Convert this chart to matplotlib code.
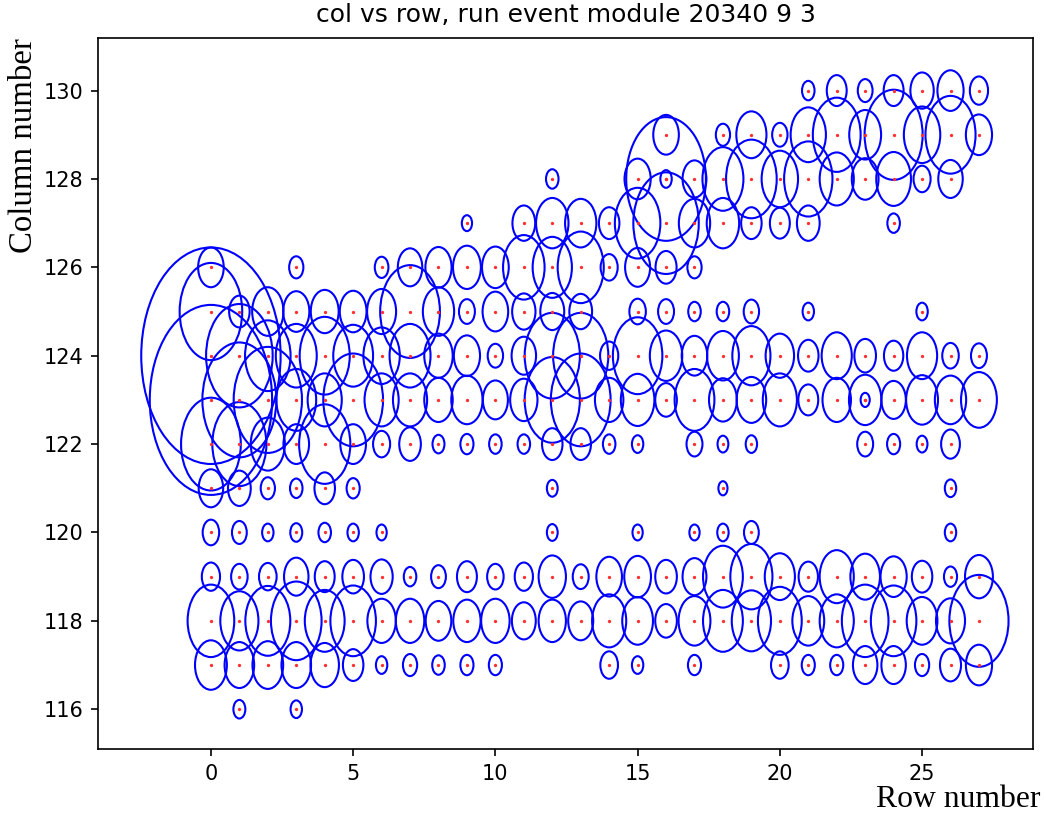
import matplotlib
matplotlib.use("Agg")
import matplotlib.pyplot as plt
from matplotlib.patches import Circle

# column values and, for each, the rows hit and the circle radii (data units)
rows_130 = [21, 22, 23, 24, 25, 26, 27]
rad_130 = [0.22, 0.35, 0.26, 0.35, 0.41, 0.46, 0.32]

rows_129 = [16, 18, 19, 20, 21, 22, 23, 24, 25, 26, 27]
rad_129 = [0.45, 0.25, 0.53, 0.27, 0.62, 0.84, 0.56, 1.02, 0.64, 0.88, 0.46]

rows_128 = [12, 15, 16, 16, 17, 18, 19, 20, 21, 22, 23, 24, 25, 26]
rad_128 = [0.22, 0.46, 1.4, 0.2, 0.42, 0.72, 0.89, 0.64, 0.85, 0.6, 0.47, 0.61, 0.3, 0.43]

rows_127 = [9, 11, 12, 13, 14, 15, 16, 17, 18, 19, 20, 21, 24]
rad_127 = [0.18, 0.4, 0.57, 0.55, 0.36, 0.8, 1.15, 0.55, 0.57, 0.36, 0.35, 0.4, 0.22]

rows_126 = [0, 3, 6, 7, 8, 9, 10, 11, 12, 13, 14, 15, 16, 17]
rad_126 = [0.45, 0.25, 0.24, 0.43, 0.46, 0.49, 0.47, 0.73, 0.69, 0.81, 0.3, 0.44, 0.37, 0.25]

rows_125 = [0, 1, 2, 3, 4, 5, 6, 7, 8, 9, 10, 11, 12, 13, 15, 16, 17, 18, 19, 21, 25]
rad_125 = [1.1, 0.36, 0.55, 0.46, 0.49, 0.47, 0.51, 1.05, 0.55, 0.28, 0.45, 0.41, 0.42, 0.4,
           0.29, 0.28, 0.22, 0.22, 0.27, 0.2, 0.2]

rows_124 = [0, 1, 2, 3, 4, 5, 6, 7, 8, 9, 10, 11, 12, 13, 14, 15, 16, 17, 18, 19, 20,
            21, 22, 23, 24, 25, 26, 27]
rad_124 = [2.45, 1.17, 0.8, 0.72, 0.88, 0.7, 0.64, 0.72, 0.5, 0.46, 0.27, 0.43, 0.97, 0.97,
           0.32, 0.87, 0.57, 0.45, 0.56, 0.67, 0.5, 0.36, 0.53, 0.38, 0.34, 0.53, 0.29, 0.28]

rows_123 = [0, 1, 2, 3, 4, 5, 6, 7, 8, 9, 10, 11, 12, 13, 14, 15, 16, 17, 18, 19, 20,
            21, 22, 23, 23, 24, 25, 26, 27]
rad_123 = [2.15, 1.3, 1.2, 0.7, 0.6, 1.05, 0.6, 0.6, 0.5, 0.55, 0.44, 0.48, 0.97, 1.05,
           0.5, 0.59, 0.38, 0.7, 0.49, 0.52, 0.6, 0.35, 0.5, 0.57, 0.16, 0.43, 0.56, 0.55, 0.63]

rows_122 = [0, 1, 2, 3, 4, 5, 6, 7, 8, 9, 10, 11, 12, 13, 14, 15, 17, 18, 19, 23, 24, 25, 26]
rad_122 = [1.05, 0.95, 0.6, 0.45, 0.9, 0.45, 0.3, 0.38, 0.21, 0.23, 0.22, 0.22, 0.36, 0.36,
           0.22, 0.2, 0.28, 0.19, 0.2, 0.28, 0.23, 0.19, 0.33]

rows_121 = [0, 1, 2, 3, 4, 5, 12, 18, 26]
rad_121 = [0.43, 0.4, 0.25, 0.22, 0.36, 0.23, 0.19, 0.16, 0.2]

rows_120 = [0, 1, 2, 3, 4, 5, 6, 12, 15, 17, 18, 19, 26]
rad_120 = [0.29, 0.26, 0.2, 0.21, 0.22, 0.2, 0.18, 0.19, 0.18, 0.18, 0.2, 0.26, 0.2]

rows_119 = list(range(0, 28))
rad_119 = [0.32, 0.29, 0.31, 0.43, 0.35, 0.38, 0.39, 0.22, 0.26, 0.35, 0.29, 0.32, 0.48, 0.28,
           0.45, 0.47, 0.38, 0.42, 0.7, 0.74, 0.53, 0.34, 0.6, 0.52, 0.46, 0.36, 0.23, 0.49]

rows_118 = list(range(0, 28))
rad_118 = [0.82, 0.67, 0.79, 0.89, 0.7, 0.8, 0.5, 0.5, 0.45, 0.48, 0.5, 0.42, 0.48, 0.44,
           0.6, 0.54, 0.38, 0.56, 0.7, 0.69, 0.77, 0.56, 0.6, 0.82, 0.8, 0.54, 0.51, 1.04]

rows_117 = [0, 1, 2, 3, 4, 5, 6, 7, 8, 9, 10, 14, 15, 17, 20, 21, 22, 23, 24, 25, 26, 27]
rad_117 = [0.56, 0.52, 0.54, 0.52, 0.5, 0.36, 0.2, 0.25, 0.22, 0.23, 0.23, 0.31, 0.2, 0.23,
           0.31, 0.23, 0.23, 0.43, 0.43, 0.25, 0.37, 0.46]

rows_116 = [1, 3]
rad_116 = [0.21, 0.2]

columns = [130, 129, 128, 127, 126, 125, 124, 123, 122, 121, 120, 119, 118, 117, 116]
rows_by_col = [rows_130, rows_129, rows_128, rows_127, rows_126, rows_125, rows_124,
               rows_123, rows_122, rows_121, rows_120, rows_119, rows_118, rows_117, rows_116]
rads_by_col = [rad_130, rad_129, rad_128, rad_127, rad_126, rad_125, rad_124,
               rad_123, rad_122, rad_121, rad_120, rad_119, rad_118, rad_117, rad_116]

title = "col vs row, run event module 20340 9 3"

fig = plt.figure(figsize=(1046 / 150, 814 / 150), dpi=150)
ax = fig.add_axes([98 / 1046, 1 - 749 / 814, (1033 - 98) / 1046, (749 - 38) / 814])

xs, ys = [], []
for col, rws, rds in zip(columns, rows_by_col, rads_by_col):
    for r, rad in zip(rws, rds):
        ax.add_patch(Circle((r, col), rad, fill=False, edgecolor="blue", linewidth=1.0))
        xs.append(r)
        ys.append(col)
ax.plot(xs, ys, ".", color="#ff3030", markersize=1.2)

ax.set_xlim(-3.97, 28.9)
ax.set_ylim(115.1, 131.19)
ax.set_xticks([0, 5, 10, 15, 20, 25])
ax.set_yticks([116, 118, 120, 122, 124, 126, 128, 130])
ax.set_title(title, fontsize=12, pad=7.5)
ax.set_xlabel("Row number", loc="right", fontfamily="Liberation Serif", fontsize=15.2, labelpad=0.5)
ax.xaxis.label.set_x(1.0 + 7 / 935)
ax.set_ylabel("Column number", loc="top", fontfamily="Liberation Serif", fontsize=15.8, labelpad=2)

fig.savefig("out.png", dpi=150)
